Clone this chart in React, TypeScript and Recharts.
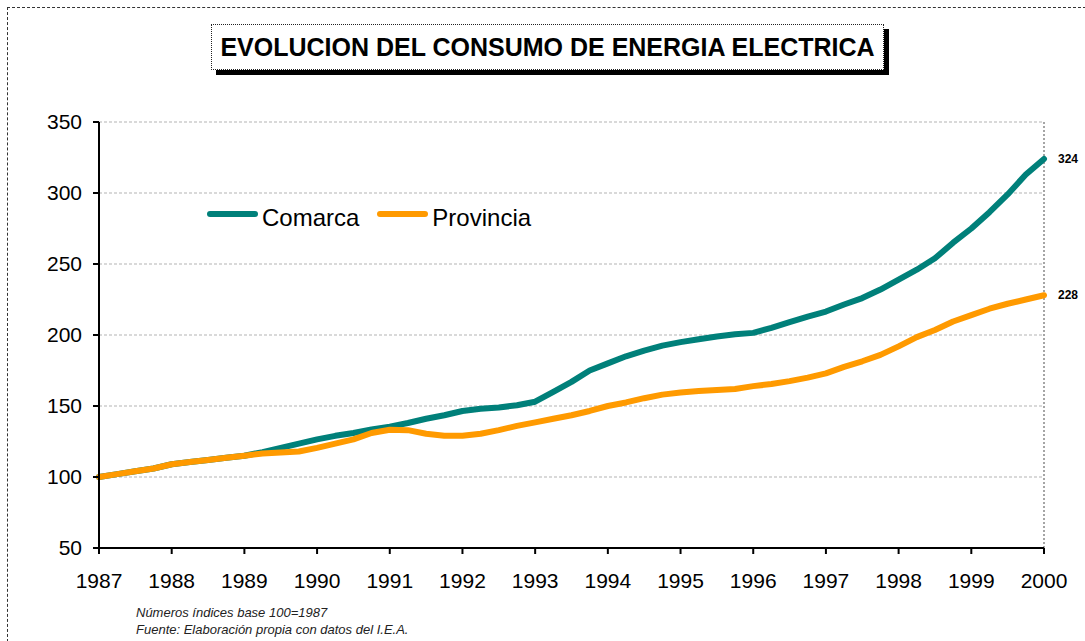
import { LineChart, Line, XAxis, YAxis, CartesianGrid, ReferenceLine, LabelList } from 'recharts';

// quarterly time points, 1987 = base 100
const periods = [
  1987, 1987.25, 1987.5, 1987.75,
  1988, 1988.25, 1988.5, 1988.75,
  1989, 1989.25, 1989.5, 1989.75,
  1990, 1990.25, 1990.5, 1990.75,
  1991, 1991.25, 1991.5, 1991.75,
  1992, 1992.25, 1992.5, 1992.75,
  1993, 1993.25, 1993.5, 1993.75,
  1994, 1994.25, 1994.5, 1994.75,
  1995, 1995.25, 1995.5, 1995.75,
  1996, 1996.25, 1996.5, 1996.75,
  1997, 1997.25, 1997.5, 1997.75,
  1998, 1998.25, 1998.5, 1998.75,
  1999, 1999.25, 1999.5, 1999.75,
  2000
];

const comarca = [
  100, 102, 104, 106,
  109, 110.5, 112, 113.5,
  115, 117.5, 120.5, 123.5,
  126.5, 129, 131, 133.5,
  135.5, 138, 141, 143.5,
  146.5, 148, 149, 150.5,
  153, 160, 167, 175,
  180, 185, 189, 192.5,
  195, 197, 199, 200.5,
  201.5, 205, 209, 213,
  216.5, 221.5, 226, 232,
  239, 246, 254, 265,
  275, 286.5, 299, 313,
  324
];

const provincia = [
  100, 102, 104, 106,
  109, 110.5, 112, 113.5,
  115, 116.5, 117.3, 118,
  120.5, 123.5, 126.5, 131,
  133.3, 133, 130.5, 129,
  129, 130.5, 133, 136,
  138.5, 141, 143.5, 146.5,
  150, 152.5, 155.5, 158,
  159.5, 160.5, 161.3, 162,
  164, 165.5, 167.5, 170,
  173, 177.5, 181.5, 186,
  192, 198.5, 203.5, 209.5,
  214, 218.5, 222, 225,
  228
];

const yearTicks = [1987, 1988, 1989, 1990, 1991, 1992, 1993, 1994, 1995, 1996, 1997, 1998, 1999, 2000];
const valueTicks = [50, 100, 150, 200, 250, 300, 350];

const series = [
  { key: 'comarca', name: 'Comarca', color: '#00807a' },
  { key: 'provincia', name: 'Provincia', color: '#ff9a00' }
];

const chartData = periods.map((t, i) => ({
  t,
  comarca: comarca[i],
  provincia: provincia[i]
}));

const lastIndex = periods.length - 1;

const renderEndLabel = (props: any) => {
  const { x, y, value, index } = props;
  if (index !== lastIndex) return null;
  return (
    <text x={x + 14} y={y} dy="0.35em" fontSize={12} fontWeight="bold" fill="#000"
      fontFamily="'Liberation Sans', Arial, sans-serif">
      {Math.round(value)}
    </text>
  );
};

export default function App() {
  return (
    <div style={{
      position: 'absolute', left: 0, top: 0, width: 1085, height: 641, overflow: 'hidden',
      background: '#fff', fontFamily: "'Liberation Sans', Arial, sans-serif"
    }}>
      <div style={{
        position: 'absolute', left: 7, top: 7, width: 1078, height: 634,
        borderTop: '1px dashed #333', borderLeft: '1px dashed #333'
      }} />

      <LineChart
        width={1085}
        height={641}
        data={chartData}
        margin={{ top: 122, right: 41, bottom: 53, left: 0 }}
      >
        <CartesianGrid vertical={false} stroke="#b3b3b3" strokeDasharray="3 2" />
        <ReferenceLine x={2000} stroke="#888" strokeDasharray="2 2" strokeWidth={1.5} />
        <XAxis
          dataKey="t"
          type="number"
          domain={[1987, 2000]}
          ticks={yearTicks}
          height={40}
          axisLine={{ stroke: '#000', strokeWidth: 2 }}
          tickLine={{ stroke: '#000', strokeWidth: 2 }}
          tickSize={6}
          tickMargin={19}
          tick={{ fill: '#000', fontSize: 21 }}
          interval={0}
        />
        <YAxis
          type="number"
          domain={[50, 350]}
          ticks={valueTicks}
          width={99}
          axisLine={{ stroke: '#000', strokeWidth: 2 }}
          tickLine={{ stroke: '#000', strokeWidth: 2 }}
          tickSize={6}
          tickMargin={11}
          tick={{ fill: '#000', fontSize: 21 }}
          interval={0}
        />
        {series.map(s => (
          <Line
            key={s.key}
            type="linear"
            dataKey={s.key}
            name={s.name}
            stroke={s.color}
            strokeWidth={6}
            strokeLinejoin="round"
            strokeLinecap="round"
            dot={false}
            isAnimationActive={false}
          >
            <LabelList dataKey={s.key} content={renderEndLabel} />
          </Line>
        ))}
      </LineChart>

      {/* title box */}
      <div style={{
        position: 'absolute', left: 211, top: 24, width: 673, height: 46,
        border: '1px dotted #222', background: '#fff', boxShadow: '5px 5px 0 #000',
        display: 'flex', alignItems: 'center', justifyContent: 'center',
        fontWeight: 'bold', fontSize: 25, color: '#000', boxSizing: 'border-box', whiteSpace: 'nowrap'
      }}>
        EVOLUCION DEL CONSUMO DE ENERGIA ELECTRICA
      </div>

      {/* legend inside plot */}
      <div style={{
        position: 'absolute', left: 198, top: 196, width: 344, height: 44, background: '#fff',
        display: 'flex', alignItems: 'center'
      }}>
        {series.map((s, i) => (
          <div key={s.key} style={{ display: 'flex', alignItems: 'center', marginLeft: i === 0 ? 9 : 18 }}>
            <span style={{
              display: 'inline-block', width: 51, height: 6, borderRadius: 3,
              background: s.color, marginRight: 4, marginTop: -8
            }} />
            <span style={{ fontSize: 24, color: '#000', lineHeight: '28px' }}>{s.name}</span>
          </div>
        ))}
      </div>

      {/* notes */}
      <div style={{
        position: 'absolute', left: 136, top: 604, fontSize: 13, fontStyle: 'italic',
        color: '#222', lineHeight: '17px'
      }}>
        <div>Números índices base 100=1987</div>
        <div>Fuente: Elaboración propia con datos del I.E.A.</div>
      </div>
    </div>
  );
}
